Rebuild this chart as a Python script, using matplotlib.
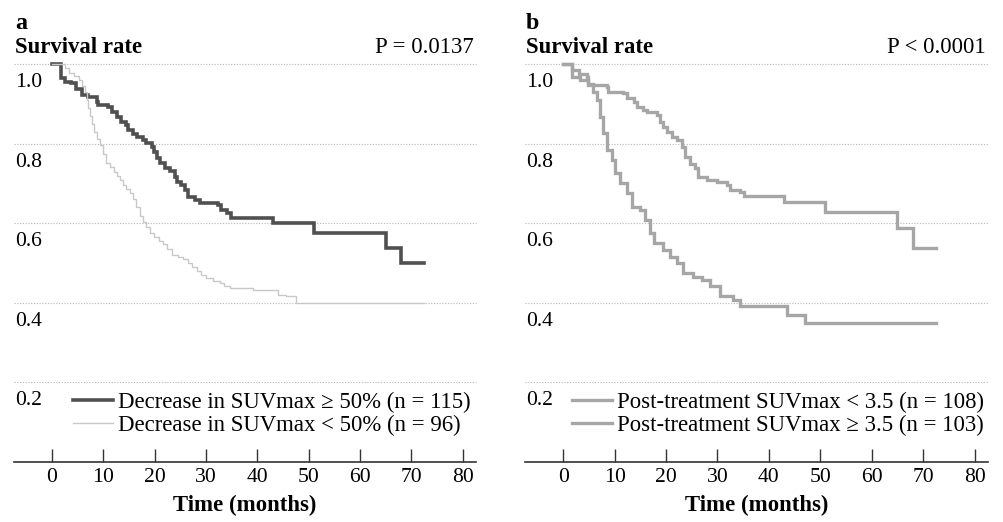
import matplotlib
matplotlib.use("Agg")
import matplotlib.pyplot as plt
from matplotlib.transforms import offset_copy

plt.rcParams['font.family'] = ['Liberation Serif', 'DejaVu Serif']

# ---------------- data ----------------
# Panel a
a_ge50_t = [0, 1.75, 2.5, 3.8, 4.6, 5.8, 7.1, 8.7, 9.0, 11.0, 11.6, 12.6, 13.5, 14.5, 14.8,
            15.8, 16.5, 17.8, 18.4, 19.4, 19.8, 20.4, 21.0, 22.0, 23.0, 24.0, 24.3, 25.2,
            25.9, 26.5, 27.8, 28.8, 32.3, 33.0, 34.0, 34.9, 43.0, 51.1, 65.0, 67.9, 72.4]
a_ge50_s = [1.0, 0.964, 0.956, 0.953, 0.936, 0.922, 0.918, 0.905, 0.897, 0.893, 0.880, 0.868,
            0.855, 0.847, 0.834, 0.824, 0.816, 0.809, 0.801, 0.792, 0.780, 0.763, 0.751, 0.738,
            0.732, 0.717, 0.704, 0.696, 0.683, 0.667, 0.658, 0.652, 0.646, 0.633, 0.625, 0.612,
            0.600, 0.575, 0.537, 0.499, 0.499]

a_lt50_t = [0, 2.5, 3.3, 4.2, 5.2, 5.8, 6.5, 6.8, 7.1, 7.4, 7.8, 8.2, 8.7, 9.3, 9.9, 10.6,
            11.3, 12.0, 12.6, 13.2, 13.8, 14.5, 15.2, 15.8, 16.4, 17.1, 17.7, 18.4, 19.1,
            19.9, 20.8, 21.7, 22.5, 23.3, 24.5, 25.6, 26.4, 27.2, 28.2, 29.1, 30.1, 31.4,
            32.7, 33.6, 34.6, 39.2, 44.0, 45.5, 47.6, 72.5]
a_lt50_s = [1.0, 0.989, 0.978, 0.970, 0.960, 0.945, 0.930, 0.910, 0.890, 0.870, 0.850, 0.830,
            0.812, 0.796, 0.775, 0.752, 0.740, 0.728, 0.718, 0.708, 0.697, 0.686, 0.675, 0.660,
            0.640, 0.618, 0.603, 0.590, 0.575, 0.565, 0.556, 0.548, 0.535, 0.520, 0.516, 0.510,
            0.500, 0.490, 0.480, 0.470, 0.462, 0.455, 0.449, 0.443, 0.437, 0.432, 0.420, 0.416,
            0.399, 0.399]

# Panel b
b_lt35_t = [0, 1.7, 3.0, 4.7, 4.9, 5.9, 8.5, 8.8, 11.7, 12.4, 13.7, 14.3, 15.6, 16.3, 18.2,
            18.9, 19.5, 20.2, 21.1, 22.1, 23.1, 23.7, 24.7, 25.7, 26.3, 27.9, 29.9, 31.8,
            32.5, 34.4, 35.1, 42.9, 50.9, 64.9, 68.1, 72.4]
b_lt35_s = [1.0, 0.985, 0.976, 0.968, 0.951, 0.947, 0.943, 0.930, 0.926, 0.914, 0.905, 0.893,
            0.884, 0.880, 0.872, 0.855, 0.842, 0.830, 0.817, 0.809, 0.792, 0.767, 0.750, 0.738,
            0.717, 0.708, 0.704, 0.696, 0.683, 0.679, 0.669, 0.654, 0.629, 0.587, 0.537, 0.537]

b_ge35_t = [0, 1.7, 3.3, 4.9, 5.9, 6.5, 7.2, 7.8, 8.5, 9.5, 10.1, 11.1, 12.4, 13.4, 15.0,
            15.9, 16.9, 17.6, 19.5, 20.8, 22.1, 23.4, 25.3, 27.0, 28.6, 30.5, 33.1, 34.4,
            43.5, 47.1, 72.4]
b_ge35_s = [1.0, 0.968, 0.960, 0.947, 0.930, 0.910, 0.868, 0.826, 0.784, 0.759, 0.725, 0.700,
            0.675, 0.641, 0.633, 0.608, 0.575, 0.550, 0.533, 0.516, 0.500, 0.474, 0.466, 0.458,
            0.441, 0.416, 0.408, 0.391, 0.370, 0.349, 0.349]

panels = [
    dict(letter='a', p='P = 0.0137', leg_x=0.128,
         series=[(a_ge50_t, a_ge50_s, 'Decrease in SUVmax \u2265 50% (n = 115)', '#505050', 2.6),
                 (a_lt50_t, a_lt50_s, 'Decrease in SUVmax < 50% (n = 96)', '#c8c8c8', 1.0)]),
    dict(letter='b', p='P < 0.0001', leg_x=0.101,
         series=[(b_lt35_t, b_lt35_s, 'Post-treatment SUVmax < 3.5 (n = 108)', '#a6a6a6', 2.4),
                 (b_ge35_t, b_ge35_s, 'Post-treatment SUVmax \u2265 3.5 (n = 103)', '#a6a6a6', 2.4)]),
]

y_grid = [0.2, 0.4, 0.6, 0.8, 1.0]
y_labels = ['0.2', '0.4', '0.6', '0.8', '1.0']
x_ticks = [0, 10, 20, 30, 40, 50, 60, 70, 80]

W, H = 1004, 522
fig = plt.figure(figsize=(W / 100, H / 100), dpi=100)

axes_px = [(14, 476), (525, 988)]
y0_px, y1_px = 462, 64

FS = 16.4
FT = 15.6
for (xl, xr), pan in zip(axes_px, panels):
    ax = fig.add_axes([xl / W, (H - y0_px) / H, (xr - xl) / W, (y0_px - y1_px) / H])
    ax.set_xlim(-7.4, 82.6)
    ax.set_ylim(0, 1.0)
    for sp in ['top', 'right', 'left']:
        ax.spines[sp].set_visible(False)
    ax.spines['bottom'].set_color('#333333')
    ax.spines['bottom'].set_linewidth(1.2)
    ax.set_yticks([])
    ax.set_xticks(x_ticks)
    ax.set_xticklabels([str(v) for v in x_ticks])
    ax.tick_params(axis='x', direction='in', length=9.5, width=1.0, color='#333333',
                   labelsize=FT, pad=4)
    for g in y_grid:
        ax.axhline(g, color='#b5b5b5', lw=0.8, ls=(0, (1, 1.5)), zorder=0, clip_on=False)
    trans = offset_copy(ax.get_yaxis_transform(), fig=fig, x=0, y=-9, units='dots')
    for g, lab in zip(y_grid, y_labels):
        ax.text(0.002, g, lab, transform=trans, ha='left', va='top', fontsize=FT)

    handles = []
    for t, s, lab, col, lw in pan['series']:
        h, = ax.step(t, s, where='post', color=col, lw=lw, label=lab, clip_on=False,
                     solid_joinstyle='miter')
        handles.append(h)
    ax.legend(handles=handles, loc='upper left', bbox_to_anchor=(pan['leg_x'], 0.177),
              frameon=False, fontsize=FS, handlelength=1.75, handletextpad=0.22,
              labelspacing=0.08, borderpad=0, borderaxespad=0)

    ax.set_xlabel('Time (months)', fontsize=FS, fontweight='bold', labelpad=6)

    ax.text(0.002, 1.0, 'Survival rate', transform=offset_copy(ax.transAxes, fig=fig, y=11, units='dots'),
            ha='left', va='baseline', fontsize=FS, fontweight='bold')
    ax.text(0.995, 1.0, pan['p'], transform=offset_copy(ax.transAxes, fig=fig, y=11, units='dots'),
            ha='right', va='baseline', fontsize=FS)
    ax.text(0.002, 1.0, pan['letter'], transform=offset_copy(ax.transAxes, fig=fig, y=35, units='dots'),
            ha='left', va='baseline', fontsize=FS + 1, fontweight='bold')

fig.savefig('out.png', dpi=100)
